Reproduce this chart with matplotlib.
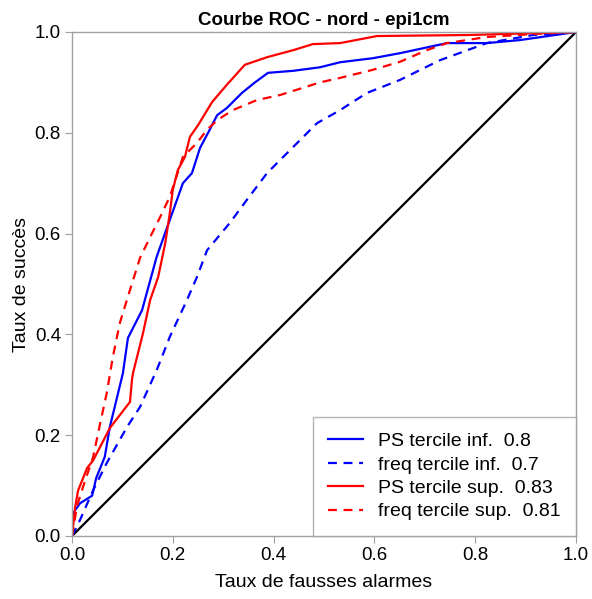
import matplotlib
matplotlib.use("Agg")
import matplotlib.pyplot as plt

plt.rcParams['font.family'] = ['Liberation Sans', 'DejaVu Sans']

title = "Courbe ROC - nord - epi1cm"
xlabel = "Taux de fausses alarmes"
ylabel = "Taux de succès"
ticks = [0.0, 0.2, 0.4, 0.6, 0.8, 1.0]
tick_labels = ["0.0", "0.2", "0.4", "0.6", "0.8", "1.0"]

ps_inf_x = [0, 0.004, 0.016, 0.04, 0.048, 0.065, 0.075, 0.101, 0.111, 0.139, 0.168, 0.194, 0.22, 0.238,
            0.254, 0.27, 0.288, 0.307, 0.337, 0.363, 0.389, 0.439, 0.492, 0.532, 0.597, 0.651, 0.744,
            0.823, 0.889, 1.0]
ps_inf_y = [0, 0.048, 0.065, 0.08, 0.115, 0.157, 0.216, 0.323, 0.393, 0.448, 0.554, 0.627, 0.70, 0.72,
            0.77, 0.80, 0.835, 0.849, 0.879, 0.90, 0.919, 0.923, 0.93, 0.94, 0.948, 0.958, 0.978,
            0.978, 0.984, 1.0]

freq_inf_x = [0, 0.016, 0.042, 0.069, 0.109, 0.135, 0.168, 0.194, 0.228, 0.248, 0.268, 0.288, 0.313,
              0.347, 0.387, 0.427, 0.452, 0.486, 0.532, 0.585, 0.651, 0.730, 0.823, 0.915, 1.0]
freq_inf_y = [0, 0.032, 0.091, 0.145, 0.216, 0.256, 0.329, 0.395, 0.468, 0.514, 0.567, 0.591, 0.621,
              0.667, 0.72, 0.76, 0.785, 0.819, 0.845, 0.879, 0.905, 0.944, 0.978, 0.994, 1.0]

ps_sup_x = [0, 0.006, 0.012, 0.03, 0.042, 0.075, 0.115, 0.119, 0.121, 0.141, 0.155, 0.171, 0.185,
            0.194, 0.2, 0.21, 0.224, 0.234, 0.25, 0.278, 0.307, 0.343, 0.387, 0.439, 0.478, 0.532,
            0.605, 0.784, 1.0]
ps_sup_y = [0, 0.056, 0.09, 0.135, 0.15, 0.214, 0.266, 0.31, 0.323, 0.403, 0.468, 0.514, 0.581,
            0.64, 0.687, 0.726, 0.752, 0.792, 0.815, 0.861, 0.895, 0.935, 0.95, 0.964, 0.976, 0.978,
            0.992, 0.994, 1.0]

freq_sup_x = [0, 0.01, 0.026, 0.042, 0.056, 0.069, 0.081, 0.095, 0.115, 0.135, 0.155, 0.175, 0.194,
              0.22, 0.248, 0.268, 0.288, 0.319, 0.367, 0.413, 0.492, 0.532, 0.597, 0.651, 0.704,
              0.744, 0.823, 0.915, 1.0]
freq_sup_y = [0, 0.06, 0.11, 0.157, 0.224, 0.284, 0.355, 0.423, 0.488, 0.552, 0.593, 0.633, 0.673,
              0.752, 0.78, 0.806, 0.825, 0.845, 0.865, 0.875, 0.90, 0.909, 0.925, 0.941, 0.964,
              0.978, 0.99, 0.996, 1.0]

labels = ["PS tercile inf.  0.8", "freq tercile inf.  0.7",
          "PS tercile sup.  0.83", "freq tercile sup.  0.81"]

fig = plt.figure(figsize=(5.92, 5.99), dpi=100)
ax = fig.add_axes([72/592, 63/599, 504/592, 504/599])

ax.plot([0, 1], [0, 1], color='black', lw=1.6)
ax.plot(ps_inf_x, ps_inf_y, color='#0000ff', lw=1.6, label=labels[0])
ax.plot(freq_inf_x, freq_inf_y, color='#0000ff', lw=1.6, ls=(0, (4, 3)), label=labels[1])
ax.plot(ps_sup_x, ps_sup_y, color='#ff0000', lw=1.6, label=labels[2])
ax.plot(freq_sup_x, freq_sup_y, color='#ff0000', lw=1.6, ls=(0, (4, 3)), label=labels[3])

ax.set_xlim(0, 1)
ax.set_ylim(0, 1)
ax.set_xticks(ticks)
ax.set_xticklabels(tick_labels)
ax.set_yticks(ticks)
ax.set_yticklabels(tick_labels)
for s in ax.spines.values():
    s.set_color('#a0a0a0')
    s.set_linewidth(1.0)
ax.tick_params(direction='out', length=5, color='#a0a0a0', labelsize=13.5, pad=3)
ax.set_xlabel(xlabel, fontsize=14, labelpad=7)
ax.set_ylabel(ylabel, fontsize=14, labelpad=3)
ax.set_title(title, fontsize=13.5, fontweight='bold', pad=5)

leg = ax.legend(loc='lower right', bbox_to_anchor=(1, 0), borderaxespad=0, fontsize=14,
                frameon=True, fancybox=False, edgecolor='#a0a0a0', handlelength=1.8,
                handletextpad=0.75, borderpad=0.8, labelspacing=0.3)
leg.get_frame().set_linewidth(1.0)

fig.savefig("out.png", dpi=100)
